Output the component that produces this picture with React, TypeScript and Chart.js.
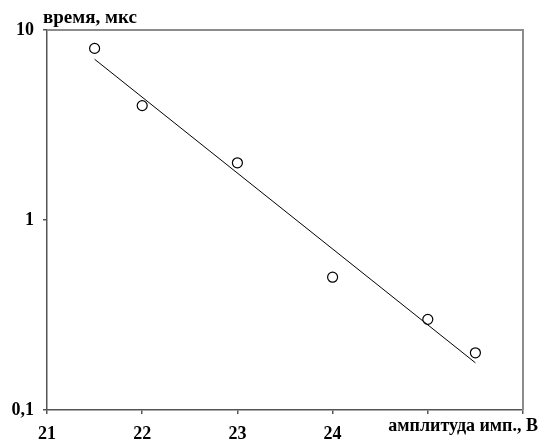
import React, { useEffect, useRef } from "react";
import { Chart, registerables } from "chart.js";

Chart.register(...registerables);

// Measured pulse amplitude (V) vs. time (µs)
const amplitudes = [21.5, 22, 23, 24, 25, 25.5];
const times = [8, 4, 2, 0.5, 0.3, 0.2];

const xTickLabels = ["21", "22", "23", "24"];
const yTickLabels: Record<string, string> = { "0.1": "0,1", "1": "1", "10": "10" };

const yTitle = "время, мкс";
const xTitle = "амплитуда имп., В";

// Exponential trend line: least-squares fit of log10(time) against amplitude
function trendLine() {
  const n = amplitudes.length;
  const ly = times.map((t) => Math.log10(t));
  const mx = amplitudes.reduce((a, b) => a + b, 0) / n;
  const my = ly.reduce((a, b) => a + b, 0) / n;
  let sxy = 0;
  let sxx = 0;
  for (let i = 0; i < n; i++) {
    sxy += (amplitudes[i] - mx) * (ly[i] - my);
    sxx += (amplitudes[i] - mx) ** 2;
  }
  const k = sxy / sxx;
  const x0 = amplitudes[0];
  const x1 = amplitudes[n - 1];
  return [
    { x: x0, y: Math.pow(10, my + k * (x0 - mx)) },
    { x: x1, y: Math.pow(10, my + k * (x1 - mx)) },
  ];
}

const FONT = "'Liberation Serif', 'Times New Roman', serif";

const framePlugin = {
  id: "frame",
  beforeDatasetsDraw(chart: any) {
    const { ctx, chartArea: a } = chart;
    ctx.save();
    ctx.strokeStyle = "#8c8c8c";
    ctx.lineWidth = 2;
    ctx.beginPath();
    ctx.moveTo(a.left, a.top);
    ctx.lineTo(a.right, a.top);
    ctx.lineTo(a.right, a.bottom);
    ctx.stroke();
    ctx.restore();
  },
  afterDraw(chart: any) {
    const { ctx } = chart;
    ctx.save();
    ctx.fillStyle = "#000";
    ctx.textBaseline = "alphabetic";
    ctx.font = `bold 19px ${FONT}`;
    ctx.textAlign = "left";
    ctx.fillText(yTitle, 43, 23);
    ctx.font = `bold 18px ${FONT}`;
    ctx.textAlign = "right";
    ctx.fillText(xTitle, 538, 431);
    ctx.restore();
  },
};

export default function App() {
  const ref = useRef<HTMLCanvasElement>(null);

  useEffect(() => {
    if (!ref.current) return;
    const chart = new Chart(ref.current, {
      type: "scatter",
      data: {
        datasets: [
          {
            data: trendLine(),
            showLine: true,
            borderColor: "#000",
            borderWidth: 1,
            pointRadius: 0,
            pointHoverRadius: 0,
          },
          {
            data: amplitudes.map((x, i) => ({ x, y: times[i] })),
            showLine: false,
            pointStyle: "circle",
            pointRadius: 5,
            pointBorderWidth: 1.2,
            pointBorderColor: "#000",
            pointBackgroundColor: "#fff",
          },
        ],
      },
      plugins: [framePlugin],
      options: {
        responsive: false,
        animation: false,
        layout: { padding: { top: 30, right: 22, left: 0, bottom: 0 } },
        plugins: {
          legend: { display: false },
          tooltip: { enabled: false },
        },
        scales: {
          x: {
            type: "linear",
            min: 21,
            max: 26,
            afterFit(scale: any) {
              scale.height = 34;
            },
            grid: {
              display: true,
              drawOnChartArea: false,
              drawTicks: true,
              tickLength: 4,
              color: "#555",
              lineWidth: 1.5,
            },
            border: { display: true, color: "#555", width: 1.5 },
            ticks: {
              stepSize: 1,
              padding: 10,
              color: "#000",
              font: { family: FONT, size: 18, weight: "bold" },
              maxRotation: 0,
              autoSkip: false,
              callback: (v: any) => {
                const s = String(v);
                return xTickLabels.includes(s) ? s : "";
              },
            },
          },
          y: {
            type: "logarithmic",
            min: 0.1,
            max: 10,
            afterFit(scale: any) {
              scale.width = 47;
            },
            afterBuildTicks(scale: any) {
              scale.ticks = [{ value: 0.1 }, { value: 1 }, { value: 10 }];
            },
            grid: {
              display: true,
              drawOnChartArea: false,
              drawTicks: true,
              tickLength: 4,
              color: "#555",
              lineWidth: 1.5,
            },
            border: { display: true, color: "#555", width: 1.5 },
            ticks: {
              padding: 9,
              color: "#000",
              font: { family: FONT, size: 18, weight: "bold" },
              autoSkip: false,
              callback: (v: any) => yTickLabels[String(v)] ?? "",
            },
          },
        },
      },
    });
    return () => chart.destroy();
  }, []);

  return (
    <div style={{ position: "fixed", left: 0, top: 0, width: 545, height: 444, background: "#fff" }}>
      <canvas ref={ref} width={545} height={444} />
    </div>
  );
}
